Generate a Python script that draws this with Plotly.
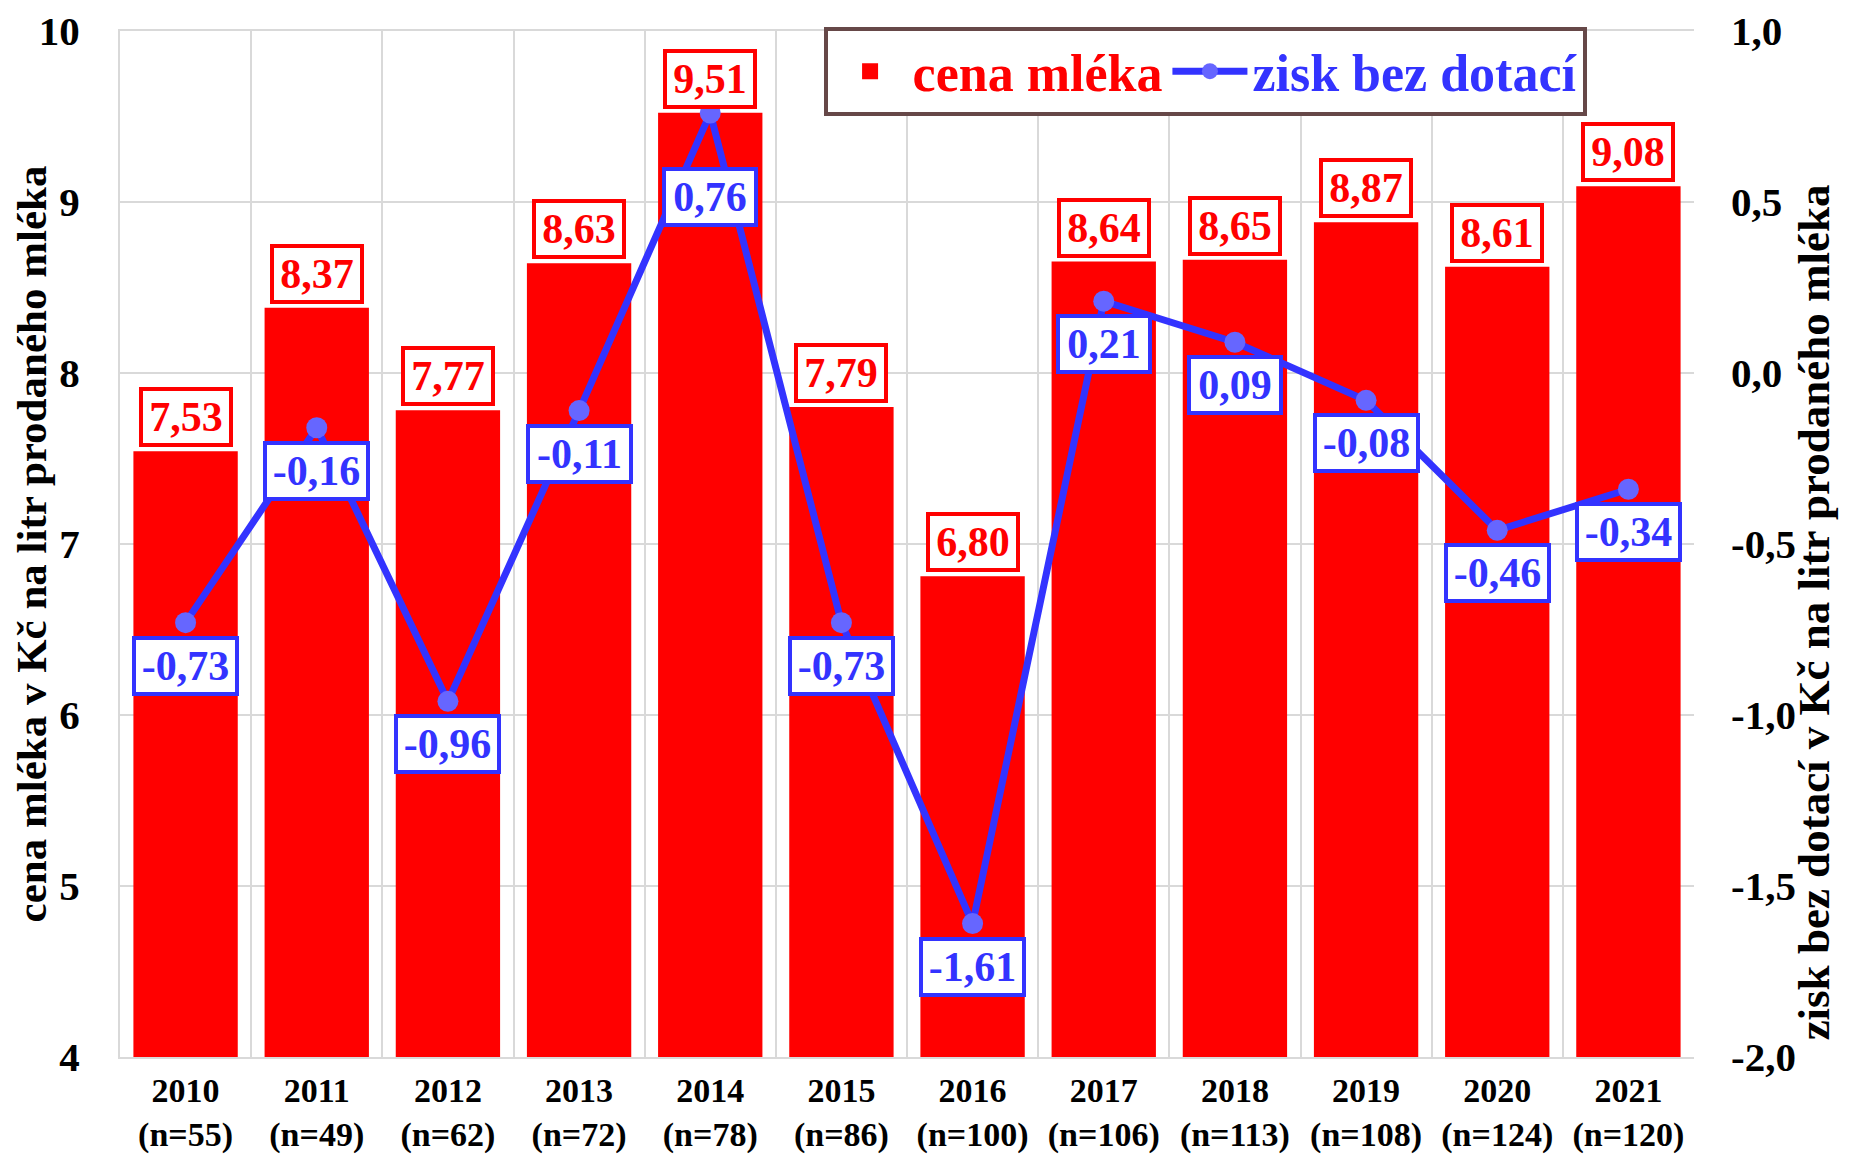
import plotly.graph_objects as go

years = ["2010", "2011", "2012", "2013", "2014", "2015", "2016", "2017", "2018", "2019", "2020", "2021"]
n_counts = [55, 49, 62, 72, 78, 86, 100, 106, 113, 108, 124, 120]
cena_mleka = [7.53, 8.37, 7.77, 8.63, 9.51, 7.79, 6.80, 8.64, 8.65, 8.87, 8.61, 9.08]
zisk_bez_dotaci = [-0.73, -0.16, -0.96, -0.11, 0.76, -0.73, -1.61, 0.21, 0.09, -0.08, -0.46, -0.34]

left_ticks = [4, 5, 6, 7, 8, 9, 10]
right_ticks = [-2.0, -1.5, -1.0, -0.5, 0.0, 0.5, 1.0]

categories = [f"{y}<br>(n={n})" for y, n in zip(years, n_counts)]

def fmt(v, d):
    return f"{v:.{d}f}".replace(".", ",")

FONT = "Liberation Serif, Times New Roman, serif"
RED = "#FF0000"
BLUE = "#3333FF"
MARK = "#6666FF"
GRID = "#D9D9D9"

fig = go.Figure()
fig.add_trace(go.Bar(
    x=categories, y=cena_mleka,
    name=f'<span style="color:{RED}">cena mléka</span>',
    marker=dict(color=RED, line=dict(width=4, color=RED)),
    yaxis="y",
))
fig.add_trace(go.Scatter(
    x=categories, y=zisk_bez_dotaci,
    name=f'<span style="color:{BLUE}">zisk bez dotací</span>',
    mode="lines+markers",
    line=dict(color=BLUE, width=7),
    marker=dict(color=MARK, size=21),
    yaxis="y2",
))

annotations = []
for c, v in zip(categories, cena_mleka):
    annotations.append(dict(
        x=c, y=v, xref="x", yref="y", text=fmt(v, 2), showarrow=False,
        yanchor="bottom", yshift=6, width=80,
        font=dict(family=FONT, size=42, color=RED, weight="bold"),
        bgcolor="white", bordercolor=RED, borderwidth=4, borderpad=3,
    ))
for i, (c, v) in enumerate(zip(categories, zisk_bez_dotaci)):
    shift = -54 if years[i] == "2014" else -13
    annotations.append(dict(
        x=c, y=v, xref="x", yref="y2", text=fmt(v, 2), showarrow=False,
        yanchor="top", yshift=shift, width=93 if v < 0 else 82,
        font=dict(family=FONT, size=42, color=BLUE, weight="bold"),
        bgcolor="white", bordercolor=BLUE, borderwidth=4, borderpad=3,
    ))

# right axis title (placed slightly below the plot centre, as in the source)
annotations.append(dict(
    text="zisk bez dotací v Kč na litr prodaného mléka",
    xref="paper", yref="paper", x=1.076, y=0.433, textangle=-90,
    xanchor="center", yanchor="middle", showarrow=False,
    font=dict(family=FONT, size=45, color="black", weight="bold"),
))

fig.update_layout(
    width=1835, height=1146,
    margin=dict(l=112, r=149, t=23, b=97),
    paper_bgcolor="white", plot_bgcolor="white",
    bargap=0.235,
    font=dict(family=FONT, color="black", weight="bold"),
    showlegend=True,
    legend=dict(
        orientation="h", x=0.447, y=1.004, xanchor="left", yanchor="top",
        font=dict(family=FONT, size=52, weight="bold"),
        bgcolor="white", bordercolor="#664848", borderwidth=4,
        itemwidth=75, tracegroupgap=0,
    ),
    xaxis=dict(
        type="category", range=[-0.5, 11.5], tickson="boundaries", automargin=False,
        showgrid=True, gridcolor=GRID, gridwidth=2,
        showline=True, linecolor=GRID, linewidth=2, mirror=True,
        ticks="", ticklabelstandoff=2,
        tickfont=dict(family=FONT, size=34, color="black", weight="bold"),
    ),
    yaxis=dict(
        range=[4, 10], tickvals=left_ticks, ticktext=[str(t) for t in left_ticks],
        automargin=False, ticklabeloverflow="allow",
        showgrid=True, gridcolor=GRID, gridwidth=2, zeroline=False,
        showline=True, linecolor=GRID, linewidth=2,
        ticks="", ticklabelstandoff=30,
        tickfont=dict(family=FONT, size=41, color="black", weight="bold"),
        title=dict(text="cena mléka v Kč na litr prodaného mléka", standoff=4,
                   font=dict(family=FONT, size=43, color="black", weight="bold")),
    ),
    yaxis2=dict(
        overlaying="y", side="right", range=[-2, 1],
        tickvals=right_ticks, ticktext=[fmt(t, 1) for t in right_ticks],
        automargin=False, ticklabeloverflow="allow",
        showgrid=False, zeroline=False, ticks="", ticklabelstandoff=36,
        tickfont=dict(family=FONT, size=41, color="black", weight="bold"),
    ),
    annotations=annotations,
)

fig.write_html("out.html")
